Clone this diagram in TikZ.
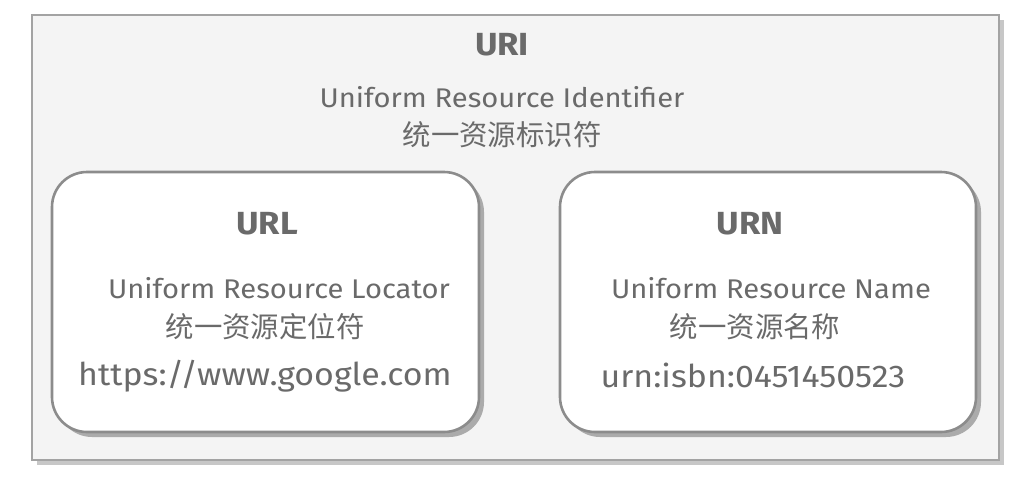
\documentclass[tikz,border=0pt]{standalone}
\usepackage{fontspec}
\setmainfont{Fira Sans}[FakeStretch=1.08]
\newfontfamily\cjk{Noto Sans CJK SC}
\usetikzlibrary{positioning,shadows}
\definecolor{inkgray}{HTML}{6A6A6A}
\definecolor{boxline}{HTML}{8C8C8C}
\definecolor{paper}{HTML}{F4F4F4}

\begin{document}
\begin{tikzpicture}[x=0.5pt,y=-0.5pt,node distance=20pt,on grid,
    outerbox/.style={draw=boxline!80,line width=1.4pt,fill=paper,
      general shadow={fill=black!22,shadow xshift=2.5pt,shadow yshift=-2.5pt}},
    innerbox/.style={draw=boxline,line width=1.3pt,fill=white,rounded corners=17.5pt,
      general shadow={fill=black!33,shadow xshift=2.5pt,shadow yshift=-2.5pt}},
    title/.style={text=inkgray,font=\bfseries\fontsize{16}{18}\selectfont},
    body/.style={text=inkgray,font=\fontsize{13.5}{16}\selectfont},
    zh/.style={text=inkgray,font=\cjk\fontsize{14.2}{16}\selectfont},
    sample/.style={text=inkgray,font=\fontsize{15.7}{18}\selectfont}]

  \useasboundingbox (0,0) rectangle (1032,493);

  % ── Boxes ─────────────────────────────────────────────────────
  \node[outerbox,minimum width=483.5pt,minimum height=222.5pt] (uri) at (515.5,237.5) {};
  \node[innerbox,minimum width=213.5pt,minimum height=130pt]   (url) at (265.5,302) {};
  \node[innerbox,minimum width=208pt,minimum height=130pt]     (urn) at (768,302) {};

  % ── URI ───────────────────────────────────────────────────────
  \node[title]                               (urititle) at (502,45) {URI};
  \node[body, below=26pt of urititle]        (uriname)  {Uniform Resource Identifier};
  \node[zh,   below=19pt of uriname]         (urizh)    {统一资源标识符};

  % ── URL ───────────────────────────────────────────────────────
  \node[title]                                   (urltitle) at (267,224) {URL};
  \node[body,   below right=32pt and 6pt of urltitle] (urlname) {Uniform Resource Locator};
  \node[zh,     below left=19.5pt and 7pt of urlname] (urlzh)   {统一资源定位符};
  \node[sample, below=24.5pt of urlzh]           (urlex)    {https://www.google.com};

  % ── URN ───────────────────────────────────────────────────────
  \node[title]                                   (urntitle) at (750,224) {URN};
  \node[body,   below right=32pt and 10.5pt of urntitle] (urnname) {Uniform Resource Name};
  \node[zh,     below left=19.5pt and 8pt of urnname]    (urnzh)   {统一资源名称};
  \node[sample, below left=24pt and 1pt of urnzh]        (urnex)   {urn:isbn:0451450523};

\end{tikzpicture}
\end{document}
